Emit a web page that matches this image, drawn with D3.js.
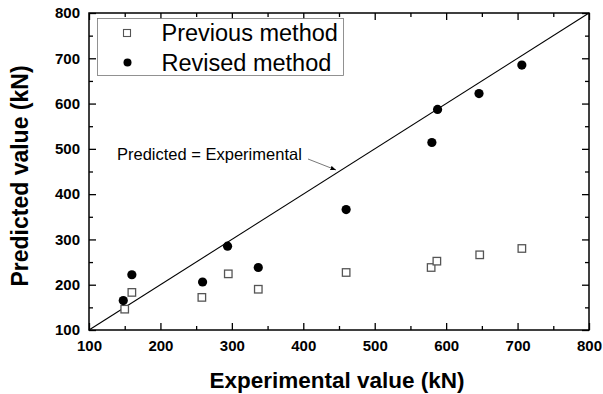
<!DOCTYPE html>
<html>
<head>
<meta charset="utf-8">
<script src="https://cdn.jsdelivr.net/npm/d3@7"></script>
<style>
  body { margin: 0; background: #fff; }
  text { font-family: Arial, "Liberation Sans", sans-serif; }
</style>
</head>
<body>
<div id="chart"></div>
<script>
// data
var prevX = [150, 160, 258, 295, 337, 460, 579, 587, 647, 706];
var prevY = [146, 183, 172, 224, 190, 227, 238, 252, 266, 280];
var revX  = [148, 160, 259, 294, 337, 460, 580, 588, 646, 706];
var revY  = [165, 222, 206, 285, 238, 366, 514, 587, 622, 685];
var xTicks = [100, 200, 300, 400, 500, 600, 700, 800];
var yTicks = [100, 200, 300, 400, 500, 600, 700, 800];

var svgWidth = 603, svgHeight = 394;
var margin = {top: 13, right: 14, bottom: 64, left: 89};
var width = svgWidth - margin.left - margin.right;
var height = svgHeight - margin.top - margin.bottom;

var svg = d3.select("#chart").append("svg")
  .attr("width", svgWidth).attr("height", svgHeight);
var g = svg.append("g").attr("transform", `translate(${margin.left},${margin.top})`);

var x = d3.scaleLinear().domain([100, 800]).range([0, width]);
var y = d3.scaleLinear().domain([100, 800]).range([height, 0]);

var minor = d3.range(150, 800, 100);

function styleAxis(sel) {
  sel.select(".domain").remove();
  sel.selectAll("line").attr("stroke", "#000").attr("stroke-width", 1.3);
}

// major ticks (inward) with labels
g.append("g").attr("transform", `translate(0,${height})`)
  .call(d3.axisBottom(x).tickValues(xTicks).tickSize(-7).tickPadding(10).tickFormat(d3.format("d")))
  .call(styleAxis)
  .selectAll("text").attr("font-size", 15).attr("font-weight", "bold").attr("fill", "#000");
g.append("g")
  .call(d3.axisLeft(y).tickValues(yTicks).tickSize(-7).tickPadding(9).tickFormat(d3.format("d")))
  .call(styleAxis)
  .selectAll("text").attr("font-size", 15).attr("font-weight", "bold").attr("fill", "#000");
// minor ticks
g.append("g").attr("transform", `translate(0,${height})`)
  .call(d3.axisBottom(x).tickValues(minor).tickSize(-4).tickFormat("")).call(styleAxis);
g.append("g")
  .call(d3.axisLeft(y).tickValues(minor).tickSize(-4).tickFormat("")).call(styleAxis);
// mirrored ticks on top and right
g.append("g").call(d3.axisTop(x).tickValues(xTicks).tickSize(-7).tickFormat("")).call(styleAxis);
g.append("g").call(d3.axisTop(x).tickValues(minor).tickSize(-4).tickFormat("")).call(styleAxis);
g.append("g").attr("transform", `translate(${width},0)`)
  .call(d3.axisRight(y).tickValues(yTicks).tickSize(-7).tickFormat("")).call(styleAxis);
g.append("g").attr("transform", `translate(${width},0)`)
  .call(d3.axisRight(y).tickValues(minor).tickSize(-4).tickFormat("")).call(styleAxis);

// frame
g.append("rect").attr("width", width).attr("height", height)
  .attr("fill", "none").attr("stroke", "#000").attr("stroke-width", 1.5);

// 1:1 line
g.append("line")
  .attr("x1", x(100)).attr("y1", y(100)).attr("x2", x(800)).attr("y2", y(800))
  .attr("stroke", "#000").attr("stroke-width", 1.1);

// previous method: open squares
var s = 7.5;
g.selectAll(".prev").data(prevX).enter().append("rect")
  .attr("class", "prev")
  .attr("x", (d, i) => x(d) - s / 2)
  .attr("y", (d, i) => y(prevY[i]) - s / 2)
  .attr("width", s).attr("height", s)
  .attr("fill", "#fff").attr("stroke", "#555").attr("stroke-width", 1.3);

// revised method: filled circles
g.selectAll(".rev").data(revX).enter().append("circle")
  .attr("class", "rev")
  .attr("cx", d => x(d))
  .attr("cy", (d, i) => y(revY[i]))
  .attr("r", 4.6).attr("fill", "#000");

// annotation
g.append("text").attr("x", 28).attr("y", 147)
  .attr("font-size", 16.5).attr("fill", "#000").text("Predicted = Experimental");
svg.append("defs").append("marker").attr("id", "arr")
  .attr("viewBox", "0 0 10 10").attr("refX", 10).attr("refY", 5)
  .attr("markerWidth", 7).attr("markerHeight", 7).attr("orient", "auto")
  .append("path").attr("d", "M0,1 L10,5 L0,9 Z").attr("fill", "#000");
g.append("line").attr("x1", 219).attr("y1", 146).attr("x2", 247).attr("y2", 157)
  .attr("stroke", "#555").attr("stroke-width", 0.8).attr("marker-end", "url(#arr)");

// legend
var leg = g.append("g").attr("transform", "translate(8.5,5.5)");
leg.append("rect").attr("width", 246).attr("height", 57)
  .attr("fill", "#fff").attr("stroke", "#777").attr("stroke-width", 0.8);
leg.append("rect").attr("x", 26).attr("y", 11).attr("width", 7).attr("height", 7)
  .attr("fill", "#fff").attr("stroke", "#555").attr("stroke-width", 1.1);
leg.append("circle").attr("cx", 30).attr("cy", 44).attr("r", 4).attr("fill", "#000");
leg.append("text").attr("x", 64).attr("y", 22).attr("font-size", 23.5).text("Previous method");
leg.append("text").attr("x", 64).attr("y", 52).attr("font-size", 23.5).text("Revised method");

// axis titles
svg.append("text").attr("x", 337).attr("y", 388)
  .attr("text-anchor", "middle").attr("font-size", 22.5).attr("font-weight", "bold")
  .text("Experimental value (kN)");
svg.append("text").attr("transform", "translate(28,176) rotate(-90)")
  .attr("text-anchor", "middle").attr("font-size", 23).attr("font-weight", "bold")
  .text("Predicted value (kN)");
</script>
</body>
</html>
